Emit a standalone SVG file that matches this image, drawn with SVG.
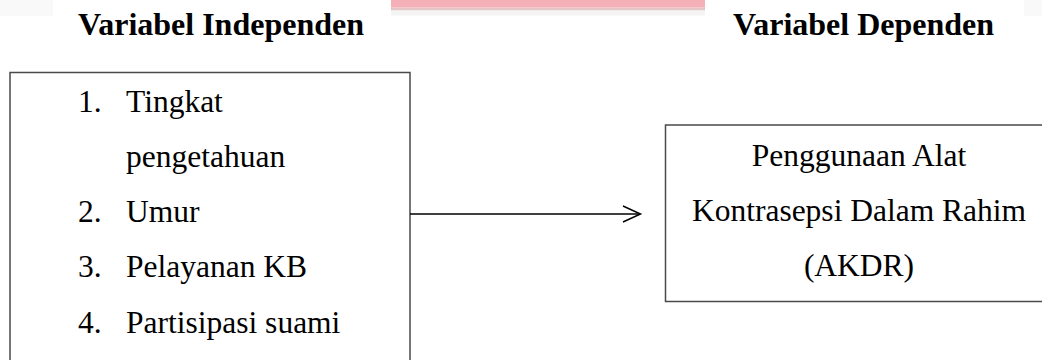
<svg xmlns="http://www.w3.org/2000/svg" width="1042" height="360" viewBox="0 0 1042 360">
  <rect x="0" y="0" width="1042" height="360" fill="#fff"/>
  <rect x="0" y="0" width="53" height="16" fill="#f9f9f9"/>
  <rect x="1024" y="0" width="18" height="16" fill="#f9f9f9"/>
  <rect x="391" y="7.5" width="314" height="3" fill="#e3c4c7"/>
  <rect x="391" y="10.5" width="314" height="5" fill="#f4f4f4"/>
  <rect x="391" y="0" width="314" height="7.5" fill="#f4b0b6"/>

  <g id="headers">
    <text x="78" y="35" style="font-family: 'Liberation Serif', serif; font-size: 32px; font-weight: bold">Variabel Independen</text>
    <text x="733" y="35" style="font-family: 'Liberation Serif', serif; font-size: 32px; font-weight: bold">Variabel Dependen</text>
  </g>

  <g id="node-independen">
    <rect x="10" y="72.5" width="400" height="300" fill="#fff" stroke="#4a4a4a" stroke-width="1.5"/>
    <text x="78" y="111.5" style="font-family: 'Liberation Serif', serif; font-size: 31.5px">1.</text>
    <text x="126" y="111.5" style="font-family: 'Liberation Serif', serif; font-size: 31.5px">Tingkat</text>
    <text x="126" y="166.8" style="font-family: 'Liberation Serif', serif; font-size: 31.5px">pengetahuan</text>
    <text x="78" y="222" style="font-family: 'Liberation Serif', serif; font-size: 31.5px">2.</text>
    <text x="126" y="222" style="font-family: 'Liberation Serif', serif; font-size: 31.5px">Umur</text>
    <text x="78" y="277.3" style="font-family: 'Liberation Serif', serif; font-size: 31.5px">3.</text>
    <text x="126" y="277.3" style="font-family: 'Liberation Serif', serif; font-size: 31.5px">Pelayanan KB</text>
    <text x="78" y="332.6" style="font-family: 'Liberation Serif', serif; font-size: 31.5px">4.</text>
    <text x="126" y="332.6" style="font-family: 'Liberation Serif', serif; font-size: 31.5px">Partisipasi suami</text>
  </g>

  <g id="node-dependen">
    <rect x="665.5" y="125" width="390" height="176.5" fill="#fff" stroke="#4a4a4a" stroke-width="1.5"/>
    <text x="859" y="165.5" text-anchor="middle" style="font-family: 'Liberation Serif', serif; font-size: 31.5px">Penggunaan Alat</text>
    <text x="859" y="220.5" text-anchor="middle" style="font-family: 'Liberation Serif', serif; font-size: 31.5px">Kontrasepsi Dalam Rahim</text>
    <text x="859" y="275.5" text-anchor="middle" style="font-family: 'Liberation Serif', serif; font-size: 31.5px">(AKDR)</text>
  </g>

  <g id="connectors" stroke="#000" stroke-width="1.5" fill="none">
    <line x1="410" y1="214" x2="640" y2="214"/>
    <polyline points="623,206 640.5,214 623,222"/>
  </g>
</svg>
